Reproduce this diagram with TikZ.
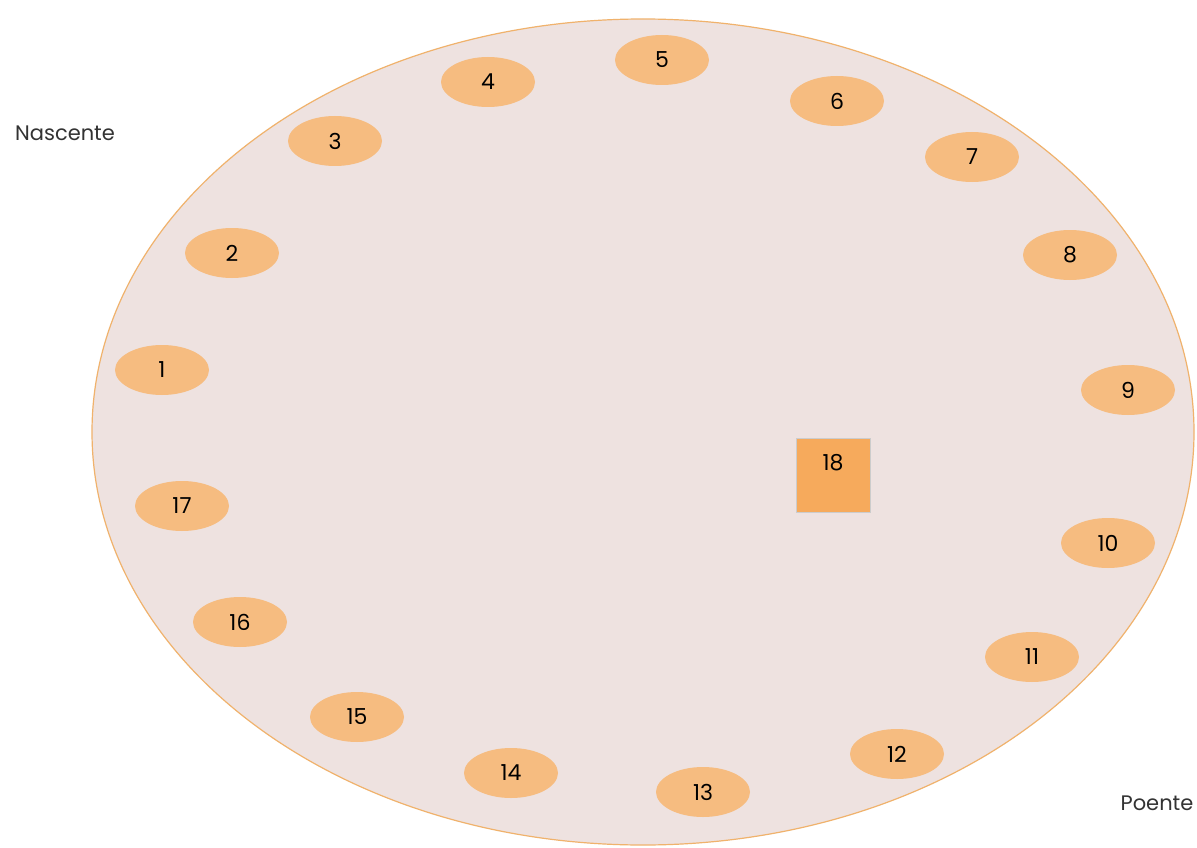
\documentclass[tikz,border=0pt]{standalone}
\usepackage{fontspec}
\setmainfont{Poppins}
\usetikzlibrary{shapes.geometric}
\definecolor{plaza}{RGB}{238,226,224}
\definecolor{rim}{RGB}{240,178,108}
\definecolor{seatfill}{RGB}{246,188,128}
\definecolor{centrefill}{RGB}{246,170,92}
\begin{document}
\begin{tikzpicture}[
  x=1pt, y=-1pt,
  lug/.style={ellipse, fill=seatfill, minimum width=94pt, minimum height=50pt,
              inner sep=0pt, font=\fontsize{22}{26}\selectfont},
  centro/.style={rectangle, fill=centrefill, draw=gray!40, minimum size=74pt,
                 inner sep=0pt},
  rumo/.style={font=\fontsize{21}{25}\selectfont, text=black!80}
]
\useasboundingbox (0,0) rectangle (1197,848);
\fill[white] (0,0) rectangle (1197,848);

% recinto
\draw[rim, fill=plaza, line width=1.2pt] (643,432) ellipse (551pt and 413pt);

% lugares a volta
\node[lug] (p1) at (162,370) {1};
\node[lug] (p2) at (232,253) {2};
\node[lug] (p3) at (335,141) {3};
\node[lug] (p4) at (488,82) {4};
\node[lug] (p5) at (662,60) {5};
\node[lug] (p6) at (837,101) {6};
\node[lug] (p7) at (972,157) {7};
\node[lug] (p8) at (1070,255) {8};
\node[lug] (p9) at (1128,390) {9};
\node[lug] (p10) at (1108,543) {10};
\node[lug] (p11) at (1032,657) {11};
\node[lug] (p12) at (897,754) {12};
\node[lug] (p13) at (703,792) {13};
\node[lug] (p14) at (511,773) {14};
\node[lug] (p15) at (357,717) {15};
\node[lug] (p16) at (240,622) {16};
\node[lug] (p17) at (182,506) {17};

% centro
\node[centro] (c18) at (833,475) {};
\node[font=\fontsize{22}{26}\selectfont] (n18) at (833,463) {18};

% orientacao
\node[rumo] (nasc) at (65,133) {Nascente};
\node[rumo] (poen) at (1157,803) {Poente};
\end{tikzpicture}
\end{document}
